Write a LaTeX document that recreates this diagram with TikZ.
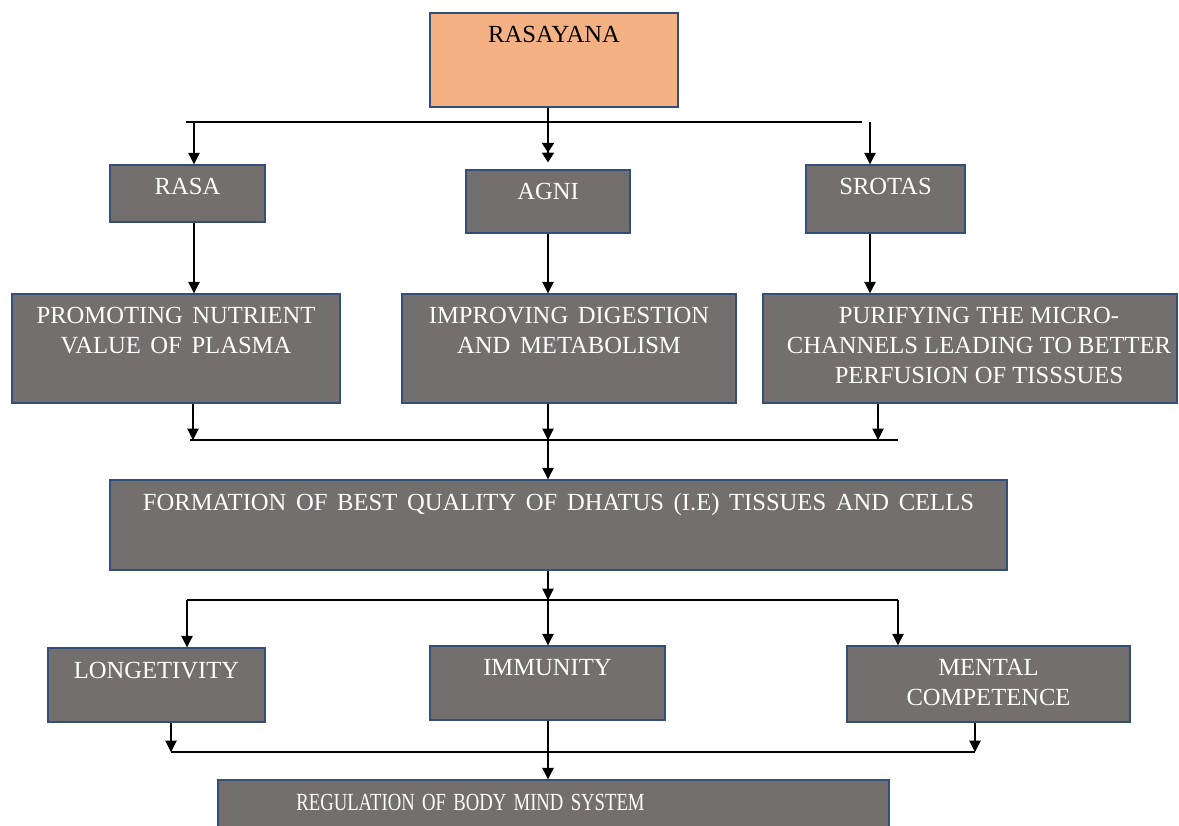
\documentclass[tikz,border=0pt]{standalone}
\usepackage{fontspec}
\setmainfont{Liberation Serif}
\usepackage{graphicx}
\usetikzlibrary{arrows.meta,fit}
\definecolor{BoxGray}  {RGB}{116,111,111}
\definecolor{BoxOrange}{RGB}{244,177,131}
\definecolor{BoxEdge}  {RGB}{52,78,122}
\newcommand\boxfont{\fontsize{14}{17}\selectfont\spaceskip=5.5pt plus 1pt\relax}
\tikzset{
  gbox/.style={draw=BoxEdge,line width=0.8pt,fill=BoxGray,inner sep=0pt},
  obox/.style={gbox,fill=BoxOrange},
  tlab/.style={anchor=north,inner xsep=0pt,inner ysep=8pt,align=center,
               text=white,font=\boxfont},
  dlab/.style={tlab,text=black},
  bus/.style={line width=0.6pt},
  arr/.style={bus,-{Triangle[width=6.5pt,length=6.5pt]}},
  dblarr/.style={bus,-{Triangle[width=7pt,length=5.5pt]Triangle[width=7pt,length=5.5pt]}}
}
\begin{document}
\begin{tikzpicture}[x=0.02cm,y=-0.02cm]
  \useasboundingbox (0,0) rectangle (1179,825);
  %% Top box
  \node[obox,fit={(430,13) (678,107)},label={[dlab]north:RASAYANA}] (rasayana) {};
  %% Rasa / Agni / Srotas
  \node[gbox,fit={(110,165) (265,222)},label={[tlab]north:RASA}] (rasa) {};
  \node[gbox,fit={(466,170) (630,233)},label={[tlab]north:AGNI}] (agni) {};
  \node[gbox,fit={(806,165) (965,233)},label={[tlab]north:SROTAS}] (srotas) {};
  %% Actions
  \node[gbox,fit={(12,294) (340,403)},
        label={[tlab]north:{PROMOTING NUTRIENT\\VALUE OF PLASMA}}] (promote) {};
  \node[gbox,fit={(402,294) (736,403)},
        label={[tlab]north:{IMPROVING DIGESTION\\AND METABOLISM}}] (improve) {};
  \node[gbox,fit={(763,294) (1177,403)},
        label={[tlab,font=\fontsize{14}{17}\selectfont,xshift=0.18cm]north:{PURIFYING THE MICRO-\\CHANNELS LEADING TO BETTER\\PERFUSION OF TISSSUES}}] (purify) {};
  %% Dhatus
  \node[gbox,fit={(110,480) (1007,570)},
        label={[tlab]north:FORMATION OF BEST QUALITY OF DHATUS (I.E) TISSUES AND CELLS}] (dhatus) {};
  %% Outcomes
  \node[gbox,fit={(48,648) (265,722)},label={[tlab]north:LONGETIVITY}] (longevity) {};
  \node[gbox,fit={(430,646) (665,720)},label={[tlab]north:IMMUNITY}] (immunity) {};
  \node[gbox,fit={(847,646) (1130,722)},
        label={[tlab]north:{MENTAL\\COMPETENCE}}] (mental) {};
  %% Bottom box (runs off the page)
  \node[gbox,fit={(218,780) (889,845)},
        label={[tlab,xshift=-1.66cm]north:\scalebox{0.76}[1]{REGULATION OF BODY MIND SYSTEM}}] (regulation) {};

  %% Bus 1: Rasayana -> three branches
  \coordinate (a0) at (186,122);
  \coordinate (a1) at (194,122);
  \coordinate (a2) at (548,122);
  \coordinate (a3) at (862,122);
  \coordinate (a4) at (870,122);
  \draw[bus] (a0) -- (a3);
  \draw[arr] (a1) -- (a1 |- rasa.north);
  \draw[dblarr,shorten >=4pt] (a2 |- rasayana.south) -- (a2 |- agni.north);
  \draw[arr] (a4) -- (a4 |- srotas.north);
  %% Branch to action
  \draw[arr] (rasa.south -| a1) -- (promote.north -| a1);
  \draw[arr] (agni.south -| a2) -- (improve.north -| a2);
  \draw[arr] (srotas.south -| a4) -- (purify.north -| a4);

  %% Bus 2: actions -> dhatus
  \coordinate (b0) at (190,440);
  \coordinate (b1) at (193,440);
  \coordinate (b2) at (548,440);
  \coordinate (b3) at (878,440);
  \coordinate (b4) at (898,440);
  \draw[bus] (b0) -- (b4);
  \draw[arr] (promote.south -| b1) -- (b1);
  \draw[arr] (improve.south -| b2) -- (b2);
  \draw[arr] (purify.south -| b3) -- (b3);
  \draw[arr] (b2) -- (dhatus.north -| b2);

  %% Bus 3: dhatus -> outcomes
  \coordinate (c1) at (187,600);
  \coordinate (c2) at (548,600);
  \coordinate (c3) at (898,600);
  \draw[arr] (dhatus.south -| c2) -- (c2);
  \draw[bus] (c1) -- (c3);
  \draw[arr] (c1) -- (c1 |- longevity.north);
  \draw[arr] (c2) -- (c2 |- immunity.north);
  \draw[arr] (c3) -- (c3 |- mental.north);

  %% Bus 4: outcomes -> regulation
  \coordinate (d1) at (171,752);
  \coordinate (d2) at (548,752);
  \coordinate (d3) at (975,752);
  \draw[bus] (d1) -- (d3);
  \draw[arr] (longevity.south -| d1) -- (d1);
  \draw[arr] (mental.south -| d3) -- (d3);
  \draw[arr] (immunity.south -| d2) -- (regulation.north -| d2);
\end{tikzpicture}
\end{document}
